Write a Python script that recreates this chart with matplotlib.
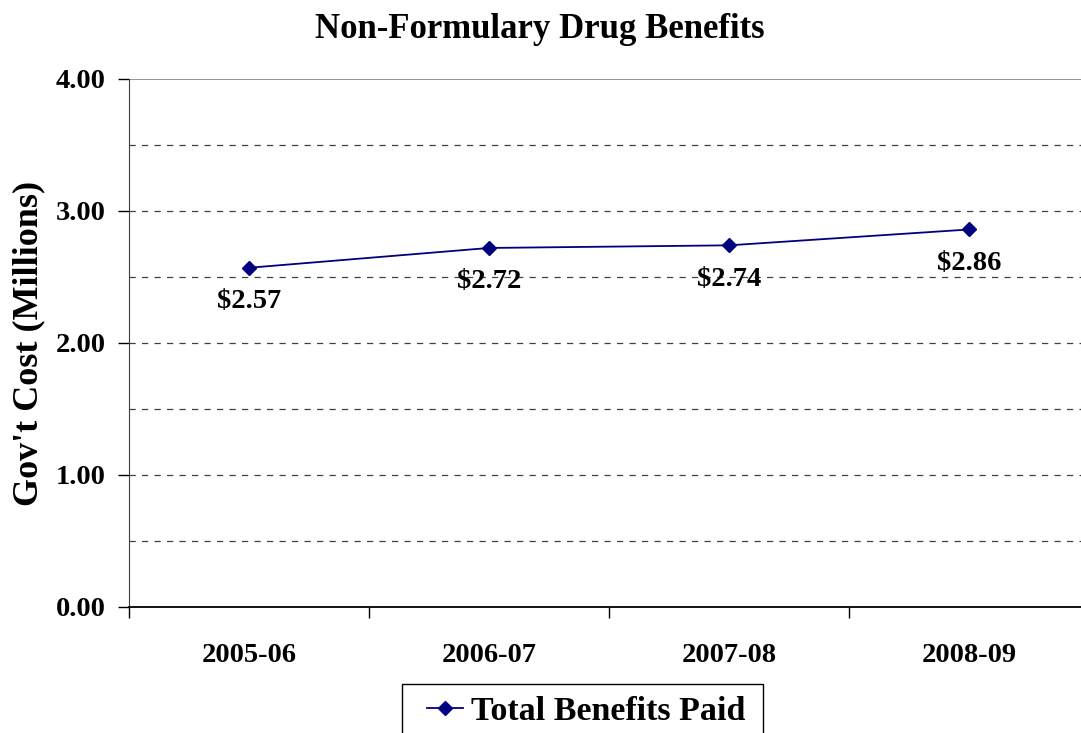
import matplotlib
matplotlib.use("Agg")
import matplotlib.pyplot as plt
from matplotlib.patches import Rectangle
import numpy as np

# data
years = ["2005-06", "2006-07", "2007-08", "2008-09"]
benefits = [2.57, 2.72, 2.74, 2.86]
series_name = "Total Benefits Paid"

plt.rcParams['font.family'] = ['Liberation Serif', 'DejaVu Serif']
plt.rcParams['font.weight'] = 'bold'

W, H = 1081, 733
fig = plt.figure(figsize=(W / 100, H / 100), dpi=100)
ax = fig.add_axes([129 / W, 1 - 607 / H, 960 / W, 528 / H])

x = np.arange(len(years))
ax.plot(x, benefits, color='#000080', lw=1.3, marker='D', markersize=7,
        label=series_name)

for xi, v in zip(x, benefits):
    ax.annotate("$%.2f" % v, (xi, v), xytext=(0, -34), textcoords='offset pixels',
                ha='center', va='center', fontsize=20.5, fontweight='bold')

ax.set_xlim(-0.5, 3.5)
ax.set_ylim(0, 4)
ax.set_yticks(np.arange(0, 4.01, 1.0))
ax.set_yticklabels(["%.2f" % t for t in np.arange(0, 4.01, 1.0)], fontsize=20.5, fontweight='bold')
ax.set_xticks(x)
ax.set_xticklabels(years, fontsize=20.5, fontweight='bold')
ax.set_xticks(np.arange(-0.5, 3.6, 1.0), minor=True)
ax.tick_params(axis='x', which='major', length=0, pad=26)
ax.tick_params(axis='x', which='minor', length=8, width=1, direction='out')
ax.tick_params(axis='y', length=8, width=1, direction='out', pad=9)

# gridlines
for g in np.arange(0.5, 4.0, 0.5):
    ax.axhline(g, color='#404040', lw=0.9, ls=(0, (5, 5)), zorder=0)
ax.axhline(4.0, color='#808080', lw=1.2, zorder=0)

for s in ['top', 'right']:
    ax.spines[s].set_visible(False)
ax.spines['left'].set_color('#404040')
ax.spines['bottom'].set_color('black')
ax.spines['bottom'].set_linewidth(1.3)

ax.set_ylabel("Gov't Cost (Millions)", fontsize=26, fontweight='bold')
ax.yaxis.set_label_coords((45 - 129) / 960, 0.5)
fig.text(0.499, 0.96, "Non-Formulary Drug Benefits", ha='center', va='center',
         fontsize=25, fontweight='bold')

# legend, box runs past the bottom edge like the original
leg = fig.legend(loc='center left', bbox_to_anchor=(427 / W, 1 - 711 / H),
                 frameon=False, handlelength=1.05, borderpad=0,
                 handletextpad=0.23, borderaxespad=0,
                 prop={'weight': 'bold', 'size': 24.5})
fig.patches.append(Rectangle((402 / W, 1 - 760 / H), 361 / W, 76 / H,
                             transform=fig.transFigure, fill=False,
                             edgecolor='black', lw=1.0))

fig.savefig("out.png", dpi=100)
